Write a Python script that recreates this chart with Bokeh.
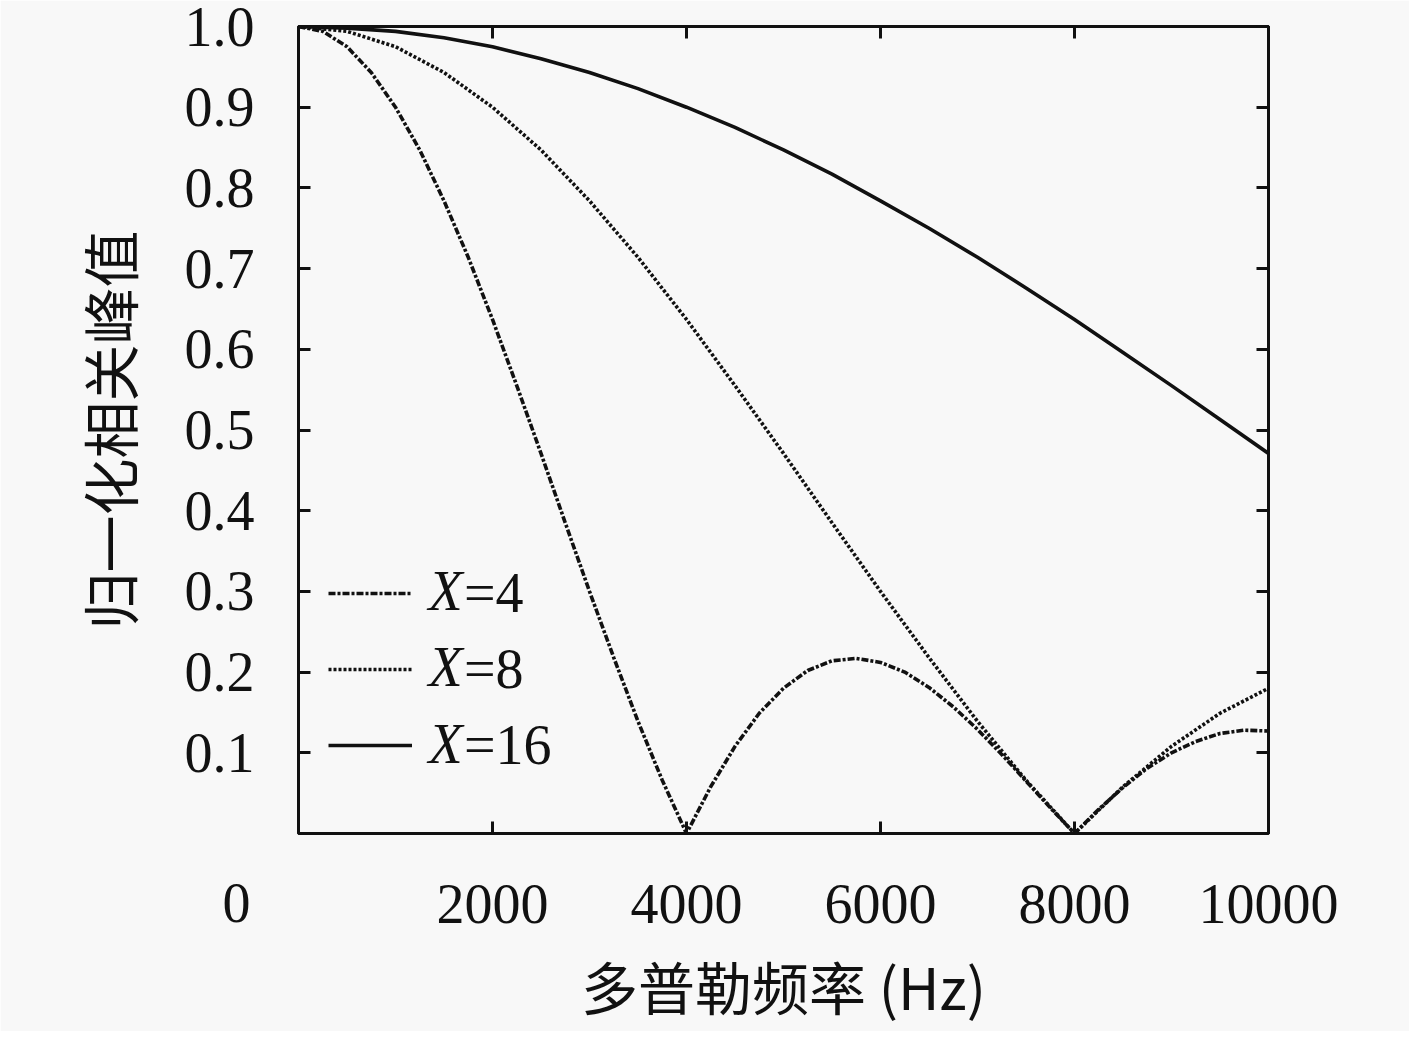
from bokeh.plotting import figure
from bokeh.models import (Range1d, FixedTicker, NumeralTickFormatter, LinearAxis,
                          Legend, LegendItem, Label)
from bokeh.embed import file_html
from bokeh.resources import INLINE

# Doppler frequency (Hz)
f4 = [0, 250, 500, 750, 1000, 1250, 1500, 1750, 2000, 2250, 2500, 2750, 3000, 3250,
      3500, 3750, 4000, 4250, 4500, 4750, 5000, 5250, 5500, 5750, 6000, 6250, 6500,
      6750, 7000, 7250, 7500, 7750, 8000, 8250, 8500, 8750, 9000, 9250, 9500, 9750, 10000]
y4 = [1.0, 0.994, 0.975, 0.943, 0.900, 0.847, 0.784, 0.714, 0.637, 0.555, 0.471,
      0.385, 0.300, 0.218, 0.139, 0.066, 0.0, 0.058, 0.108, 0.149, 0.180, 0.202,
      0.214, 0.217, 0.212, 0.200, 0.181, 0.157, 0.129, 0.098, 0.065, 0.032, 0.0,
      0.030, 0.057, 0.081, 0.100, 0.114, 0.124, 0.128, 0.127]

f8 = [0, 500, 1000, 1500, 2000, 2500, 3000, 3500, 4000, 4500, 5000, 5500, 6000,
      6500, 7000, 7500, 8000, 8500, 9000, 9500, 10000]
y8 = [1.0, 0.994, 0.975, 0.943, 0.900, 0.847, 0.784, 0.714, 0.637, 0.555, 0.471,
      0.385, 0.300, 0.218, 0.139, 0.066, 0.0, 0.058, 0.108, 0.149, 0.180]

f16 = [0, 500, 1000, 1500, 2000, 2500, 3000, 3500, 4000, 4500, 5000, 5500, 6000,
       6500, 7000, 7500, 8000, 8500, 9000, 9500, 10000]
y16 = [1.0, 0.998, 0.994, 0.986, 0.975, 0.960, 0.943, 0.923, 0.900, 0.875, 0.847,
       0.817, 0.784, 0.750, 0.714, 0.676, 0.637, 0.596, 0.555, 0.513, 0.471]

x_ticks = [2000, 4000, 6000, 8000, 10000]
y_ticks = [0.1, 0.2, 0.3, 0.4, 0.5, 0.6, 0.7, 0.8, 0.9, 1.0]
legend_var = "X"
legend_vals = ["=4", "=8", "=16"]

SERIF = "Liberation Serif"
CJK = "Noto Sans CJK SC"
BG = "#f8f8f8"
INK = "#111111"

W, H = 1409, 1031
p = figure(width=W, height=H, output_backend="svg", toolbar_location=None,
           x_range=Range1d(0, 10000), y_range=Range1d(0, 1.0),
           min_border_left=298, min_border_right=W - 1268, min_border_top=26,
           min_border_bottom=H - 833)
p.background_fill_color = BG
p.border_fill_color = BG
p.grid.visible = False
p.outline_line_color = INK
p.outline_line_width = 3

xa = p.xaxis[0]
ya = p.yaxis[0]
xa.ticker = FixedTicker(ticks=x_ticks)
ya.ticker = FixedTicker(ticks=y_ticks)
ya.formatter = NumeralTickFormatter(format="0.0")
for ax in (xa, ya):
    ax.axis_line_width = 3
    ax.axis_line_color = INK
    ax.major_tick_in = 12
    ax.major_tick_out = 0
    ax.major_tick_line_width = 3
    ax.major_tick_line_color = INK
    ax.minor_tick_line_color = None
    ax.major_label_text_font = SERIF
    ax.major_label_text_font_size = "56px"
    ax.major_label_text_color = INK
    ax.axis_label_text_font = CJK
    ax.axis_label_text_font_size = "57px"
    ax.axis_label_text_font_style = "normal"
    ax.axis_label_text_color = INK
xa.major_label_standoff = 51
ya.major_label_standoff = 44
xa.axis_label = "多普勒频率 (Hz)"
ya.axis_label = "归一化相关峰值"
xa.axis_label_standoff = 18
ya.axis_label_standoff = 33

for loc, tk in (("right", y_ticks), ("above", x_ticks)):
    ax = LinearAxis(ticker=FixedTicker(ticks=tk))
    ax.axis_line_width = 3
    ax.axis_line_color = INK
    ax.major_tick_in = 12
    ax.major_tick_out = 0
    ax.major_tick_line_width = 3
    ax.major_tick_line_color = INK
    ax.minor_tick_line_color = None
    ax.major_label_text_font_size = "0px"
    ax.major_label_standoff = 0
    p.add_layout(ax, loc)

r4 = p.line(f4, y4, line_color=INK, line_width=3.6, line_dash="7 2 3 2")
r8 = p.line(f8, y8, line_color=INK, line_width=3.6, line_dash="3 2")
r16 = p.line(f16, y16, line_color=INK, line_width=3.6)

GLYPH_X, GLYPH_W, STAND = 30, 84, 16
legend = Legend(items=[LegendItem(label=legend_vals[0], renderers=[r4]),
                       LegendItem(label=legend_vals[1], renderers=[r8]),
                       LegendItem(label=legend_vals[2], renderers=[r16])],
                location=(GLYPH_X, 56), padding=0, margin=0, spacing=12,
                glyph_width=GLYPH_W, glyph_height=60, label_height=60,
                label_standoff=STAND + 36, border_line_color=None,
                background_fill_alpha=0,
                label_text_font=SERIF, label_text_font_size="56px",
                label_text_color=INK)
p.add_layout(legend, "center")

# italic variable name in front of each legend entry (row centres above frame bottom)
for row_y in (243, 167, 90):
    p.add_layout(Label(x=GLYPH_X + GLYPH_W + STAND, y=row_y, x_units="screen",
                       y_units="screen", text=legend_var, text_font=SERIF,
                       text_font_style="italic", text_font_size="56px",
                       text_color=INK, text_align="left", text_baseline="middle"))

# origin label, drawn in the left side panel so it is not clipped to the frame
origin = Label(x=201, y=-69, x_units="screen", y_units="screen", text="0",
               text_font=SERIF, text_font_size="56px", text_color=INK,
               text_align="center", text_baseline="middle")
p.add_layout(origin, "left")

open("out.html", "w").write(file_html(p, INLINE))
